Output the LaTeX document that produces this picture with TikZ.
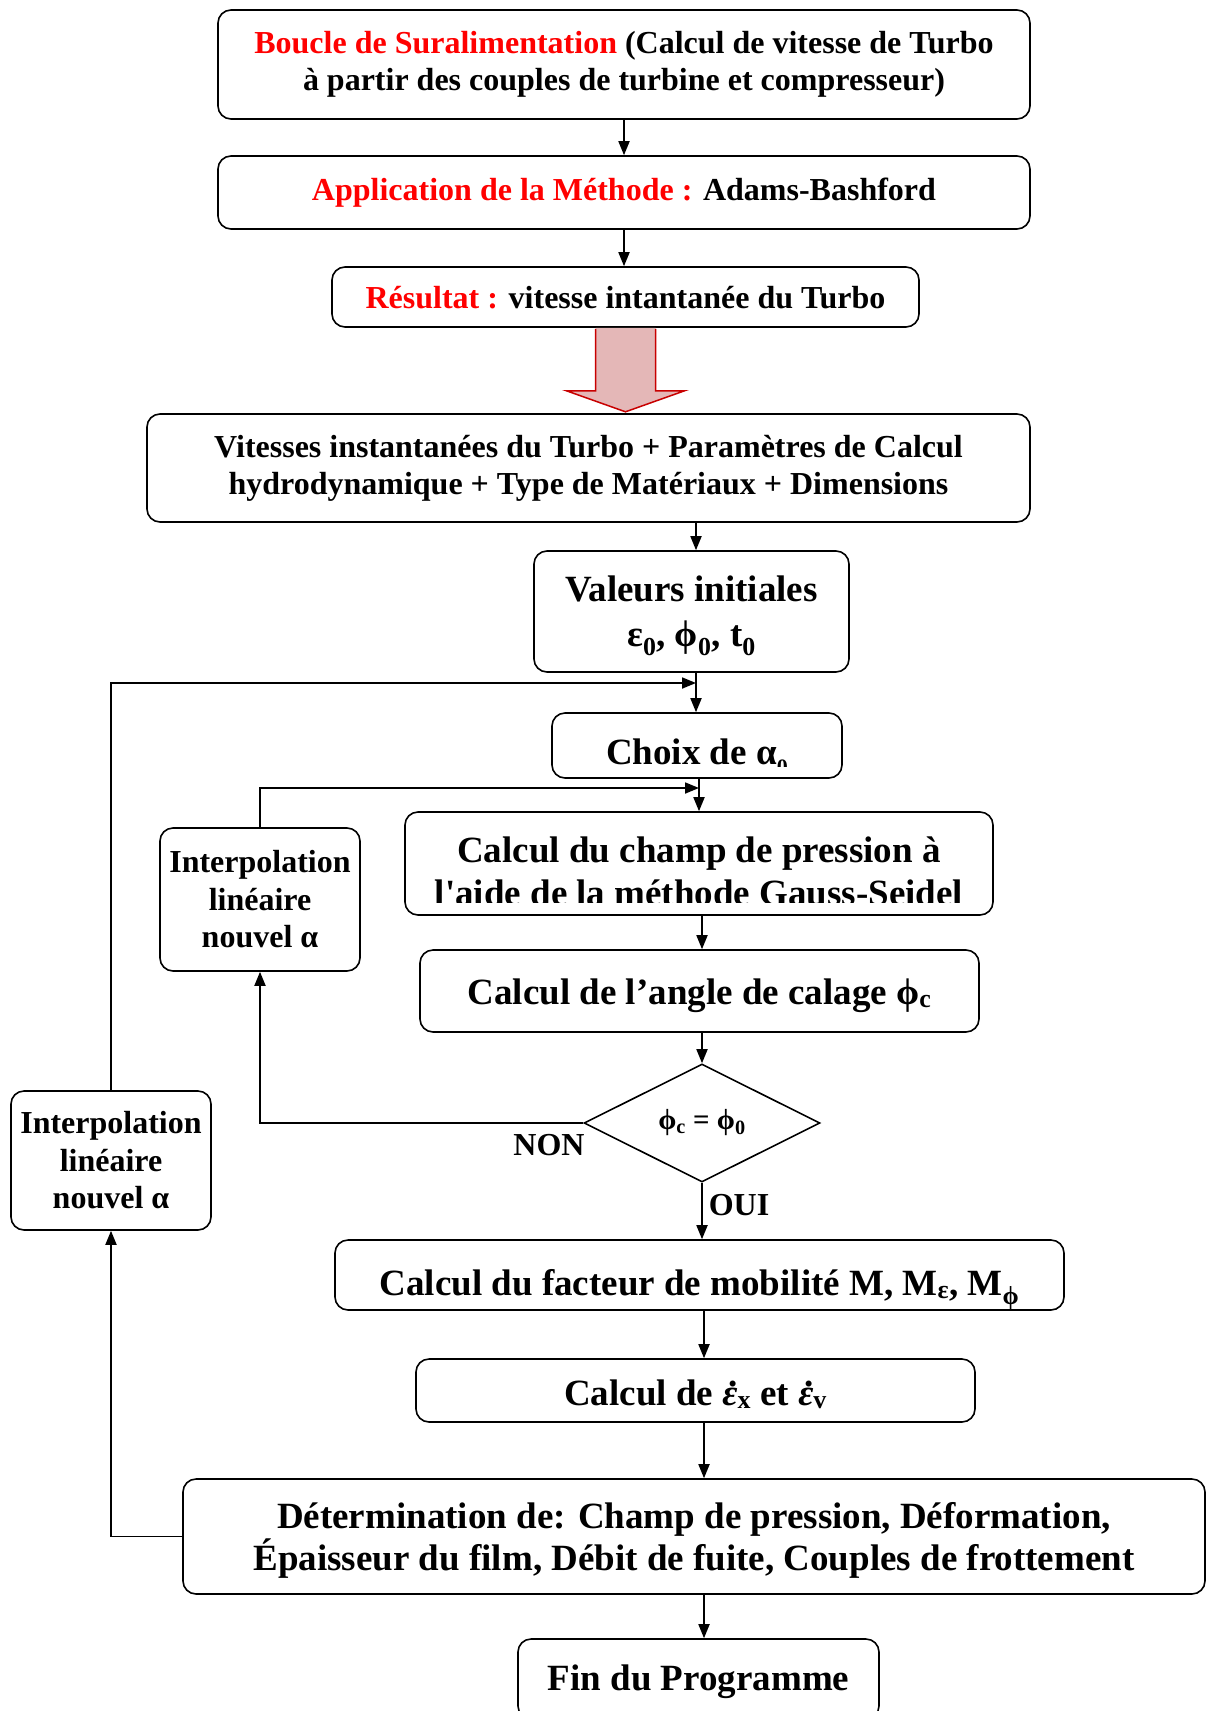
\documentclass[tikz,border=0pt]{standalone}
\usepackage{fontspec}
\setmainfont{Liberation Serif}
\usetikzlibrary{arrows.meta,shapes.geometric}
\definecolor{pinkfill}{RGB}{228,183,183}
\definecolor{arrred}{RGB}{200,0,0}
\newcommand\sbs[1]{\textsubscript{#1}}
\newcommand\epsdot{\ooalign{\textit{ε}\cr\hidewidth\raisebox{0.5em}{\kern0.15em.}\hidewidth\cr}}
\newcommand\squote{{\addfontfeature{Ligatures=TeXOff}'}}
\begin{document}
\begin{tikzpicture}[x=1pt,y=-1pt,
  box/.style={draw, line width=1.6pt, rounded corners=13pt, inner sep=0pt, align=center},
  dia/.style={draw, line width=1.6pt, diamond, inner sep=0pt, align=center},
  arr/.style={line width=1.8pt, -{Triangle[length=14pt,width=11pt]}},
  fA/.style={font=\fontsize{32}{37}\selectfont\bfseries},
  fB/.style={font=\fontsize{37}{42}\selectfont\bfseries},
  fC/.style={font=\fontsize{32}{37.5}\selectfont\bfseries},
  fD/.style={font=\fontsize{29}{32}\selectfont\bfseries},
]
\useasboundingbox (0,0) rectangle (1207,1711);

% nodes
\node[box,fA,minimum width=812pt,minimum height=109pt] (b1) at (624,64.5)
  {\textcolor{red}{Boucle de Suralimentation} (Calcul de vitesse de Turbo\\à partir des couples de turbine et compresseur)};
\node[box,fA,minimum width=812pt,minimum height=73pt] (b2) at (624,192.5)
  {\textcolor{red}{Application de la Méthode :} Adams-Bashford};
\node[box,fA,minimum width=587pt,minimum height=60pt,text height=26pt,text depth=4pt] (b3) at (625.5,297)
  {\textcolor{red}{Résultat :} vitesse intantanée du Turbo};
\node[box,fA,minimum width=883pt,minimum height=108pt] (b4) at (588.5,468)
  {Vitesses instantanées du Turbo + Paramètres de Calcul\\hydrodynamique + Type de Matériaux + Dimensions};
\node[box,minimum width=315pt,minimum height=121pt] (b5) at (691.5,611.5) {};
\node[fB,align=center,font=\fontsize{37}{45}\selectfont\bfseries] (t5) at (691.5,616)
  {Valeurs initiales\\ε\sbs{0}, ϕ\sbs{0}, t\sbs{0}};
\node[box,minimum width=290pt,minimum height=65pt] (b6) at (697,745.5) {};
\begin{scope}
  \clip ([shift={(2,-12)}]b6.south west) rectangle (b6.north east);
  \node[fB,anchor=base] (t6) at (697,764) {Choix de α\raisebox{-10pt}{\fontsize{22}{22}\selectfont 0}};
\end{scope}
\node[box,minimum width=588pt,minimum height=103pt] (b7) at (699,863.5) {};
\begin{scope}
  \clip ([shift={(2,-13)}]b7.south west) rectangle (b7.north east);
  \node[fB,anchor=base] (t7a) at (699,862) {Calcul du champ de pression à};
  \node[fB,anchor=base] (t7b) at (699,905) {l\squote aide de la méthode Gauss-Seidel};
\end{scope}
\node[box,fC,minimum width=200pt,minimum height=143pt] (b8) at (260,899.5)
  {Interpolation\\linéaire\\nouvel α};
\node[box,fB,minimum width=559pt,minimum height=82pt,text height=26pt,text depth=0pt] (b9) at (699.5,991)
  {Calcul de l’angle de calage ϕ\sbs{c}};
\node[dia,fD,minimum width=236pt,minimum height=118pt] (d) at (702,1123)
  {ϕ\sbs{c} = ϕ\sbs{0}};
\node[box,fC,minimum width=200pt,minimum height=139pt] (b10) at (111,1160.5)
  {Interpolation\\linéaire\\nouvel α};
\node[box,fB,minimum width=729pt,minimum height=70pt,text height=40pt,text depth=0pt] (b11) at (699.5,1275)
  {Calcul du facteur de mobilité M, M\sbs{ε}, M\sbs{ϕ}};
\node[box,fB,minimum width=559pt,minimum height=63pt,text height=29pt,text depth=0pt] (b12) at (695.5,1390.5)
  {Calcul de \epsdot\sbs{x} et \epsdot\sbs{v}};
\node[box,minimum width=1022pt,minimum height=115pt] (b13) at (694,1536.5) {};
\node[fB,align=center] (t13) at (694,1540.5)
  {Détermination de: Champ de pression, Déformation,\\Épaisseur du film, Débit de fuite, Couples de frottement};
\node[box,fB,minimum width=361pt,minimum height=80pt,text height=22pt,text depth=0pt] (b14) at (698.5,1679)
  {Fin du Programme};

\node[fA,anchor=base] (non) at (549,1155) {NON};
\node[fA,anchor=base] (oui) at (739,1215) {OUI};

% big red arrow
\fill[pinkfill] (b3.south) ++(-30,0) -- ++(0,63) -- ++(-29,0) -- ++(59,21) -- ++(59,-21) -- ++(-29,0) -- ++(0,-63) -- cycle;
\draw[arrred,line width=1.5pt,line join=miter] (b3.south) ++(-30,1) -- ++(0,62) -- ++(-29,0) -- ++(59,21) -- ++(59,-21) -- ++(-29,0) -- ++(0,-62);

% connectors
\coordinate (xa) at (696,0);
\coordinate (xb) at (699,0);
\coordinate (xc) at (702,0);
\coordinate (xd) at (704,0);
\coordinate (j1) at (696,683);
\coordinate (j2) at (699,788);

\draw[arr] (b1.south) -- (b2.north);
\draw[arr] (b2.south) -- (b2.south |- b3.north);
\draw[arr] (b4.south -| xa) -- (b5.north -| xa);
\draw[arr] (b5.south -| xa) -- (b6.north -| xa);
\draw[arr] (b6.south -| xb) -- (b7.north -| xb);
\draw[arr] (b7.south -| xc) -- (b9.north -| xc);
\draw[arr] (b9.south -| xc) -- (d.north);
\draw[arr] (d.south) -- (d.south |- b11.north);
\draw[arr] (b11.south -| xd) -- (b12.north -| xd);
\draw[arr] (b12.south -| xd) -- (b13.north -| xd);
\draw[arr] (b13.south -| xd) -- (b14.north -| xd);

\draw[arr] (b13.west) -| (b10.south);
\draw[arr] (b10.north) |- (j1);
\draw[arr] (d.west) -| (b8.south);
\draw[arr] (b8.north) |- (j2);
\end{tikzpicture}
\end{document}
